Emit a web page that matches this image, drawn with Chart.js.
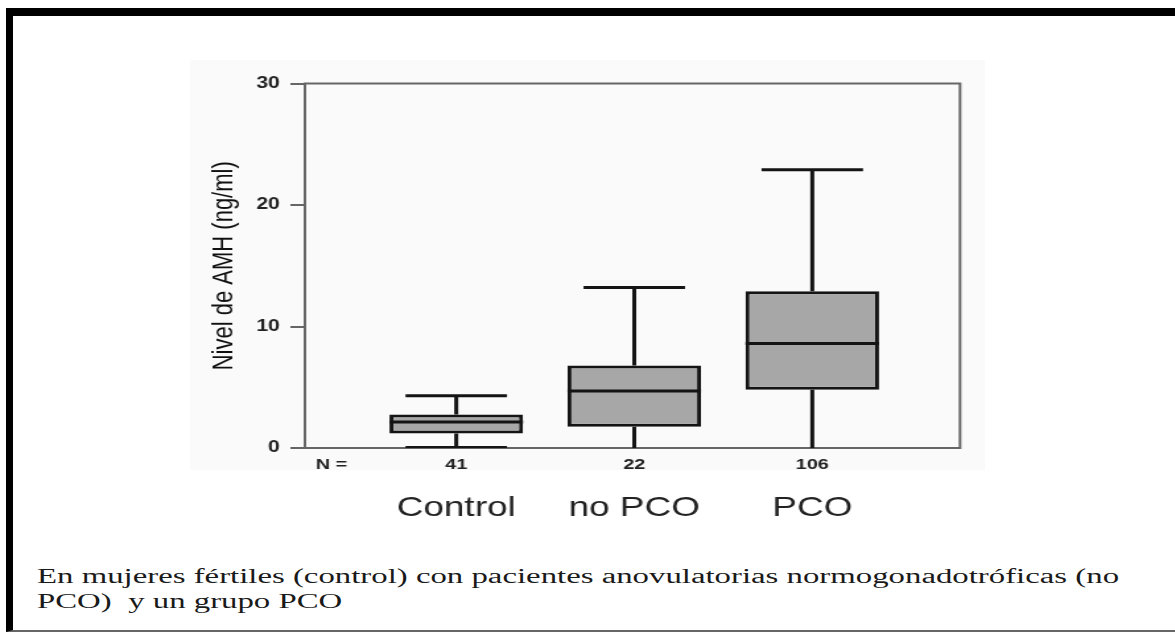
<!DOCTYPE html>
<html>
<head>
<meta charset="utf-8">
<title>AMH</title>
<script src="https://cdn.jsdelivr.net/npm/chart.js@4.4.0/dist/chart.umd.min.js"></script>
<style>
  body { margin: 0; width: 1175px; height: 633px; overflow: hidden; background: #fff; position: relative; }
  #frame { position: absolute; left: 6px; top: 8px; width: 1200px; height: 624px; box-sizing: border-box;
           border-left: 7px solid #000; border-top: 8px solid #000; border-bottom: 2px solid #666; }
  #shade { position: absolute; left: 190px; top: 60px; width: 795px; height: 410px; background: #fafafa; }
  /* the picture is stretched sideways, so the chart is drawn narrow and widened */
  #stretch { position: absolute; left: 0; top: 0; width: 890px; height: 560px; transform: scaleX(1.32); transform-origin: 0 0; }
  #caption { position: absolute; left: 37px; top: 564px; font: 20px/25px "Liberation Serif", "Times New Roman", serif;
             color: #1a1a1a; white-space: pre; transform: scaleX(1.64); transform-origin: 0 0; }
</style>
</head>
<body>
<div id="frame"></div>
<div id="shade"></div>
<div id="stretch"><canvas id="amhChart"></canvas></div>
<div id="caption">En mujeres fértiles (control) con pacientes anovulatorias normogonadotróficas (no
PCO)  y un grupo PCO</div>
<script>
const groups = ['Control', 'no PCO', 'PCO'];
const nCounts = [41, 22, 106];
const mins = [0.05, 0, 0];
const q1s = [1.2, 1.75, 4.8];
const medians = [2.15, 4.7, 8.6];
const q3s = [2.75, 6.8, 12.9];
const maxs = [4.3, 13.2, 22.9];
const yTicks = [0, 10, 20, 30];

const capHalf = 0.285;
const boxHalf = 0.375;

// whiskers, caps and medians as one broken line
const segs = [];
groups.forEach((g, i) => {
    const c = i + 1;
    segs.push({x: c, y: q3s[i]}, {x: c, y: maxs[i]}, {x: c, y: null});
    segs.push({x: c - capHalf, y: maxs[i]}, {x: c + capHalf, y: maxs[i]}, {x: c, y: null});
    segs.push({x: c, y: q1s[i]}, {x: c, y: mins[i]}, {x: c, y: null});
    if (mins[i] > 0) {
        segs.push({x: c - capHalf, y: mins[i]}, {x: c + capHalf, y: mins[i]}, {x: c, y: null});
    }
    segs.push({x: c - boxHalf, y: medians[i]}, {x: c + boxHalf, y: medians[i]}, {x: c, y: null});
});

const plotFrame = {
    id: 'plotFrame',
    beforeDatasetsDraw(chart) {
        const {ctx, chartArea: a} = chart;
        ctx.save();
        ctx.strokeStyle = '#666';
        ctx.lineWidth = 2;
        ctx.strokeRect(a.left, a.top, a.right - a.left, a.bottom - a.top);
        ctx.restore();
    }
};

Chart.defaults.font.family = '"Liberation Sans", Arial, sans-serif';
Chart.defaults.color = '#222';

new Chart(document.getElementById('amhChart'), {
    data: {
        datasets: [{
            type: 'bar',
            order: 2,
            xAxisID: 'x',
            data: groups.map((g, i) => ({x: i + 1, y: [q1s[i], q3s[i]]})),
            backgroundColor: '#a7a7a7',
            borderColor: '#141414',
            borderWidth: 3,
            borderSkipped: false,
            barPercentage: 0.75,
            categoryPercentage: 1
        }, {
            type: 'line',
            order: 1,
            xAxisID: 'x',
            data: segs,
            borderColor: '#141414',
            borderWidth: 3,
            pointRadius: 0,
            spanGaps: false,
            fill: false,
            tension: 0
        }]
    },
    options: {
        responsive: true,
        maintainAspectRatio: false,
        animation: false,
        events: [],
        layout: { padding: { left: 152.5, right: 162.7, top: 83.5, bottom: 32 } },
        plugins: { legend: { display: false }, tooltip: { enabled: false } },
        scales: {
            y: {
                min: 0,
                max: 30,
                afterBuildTicks: s => { s.ticks = yTicks.map(v => ({value: v})); },
                afterFit: s => { s.width = 78.5; },
                ticks: { padding: 8, font: { size: 16, weight: 'bold' }, color: '#222' },
                grid: { drawOnChartArea: false, drawTicks: true, tickLength: 11, color: '#666', lineWidth: 2 },
                border: { display: false },
                title: { display: true, text: 'Nivel de AMH (ng/ml)', font: { size: 22 }, padding: { top: 4, bottom: 4 }, color: '#111' }
            },
            xN: {
                type: 'linear',
                position: 'bottom',
                weight: 0,
                offset: false,
                min: 0.15,
                max: 3.83,
                afterBuildTicks: s => { s.ticks = [0.3, 1, 2, 3].map(v => ({value: v})); },
                afterFit: s => { s.height = 30; },
                ticks: {
                    autoSkip: false,
                    maxRotation: 0,
                    padding: 8,
                    font: { size: 15, weight: 'bold' },
                    color: '#222',
                    callback: (v, i) => i === 0 ? 'N =' : String(nCounts[i - 1])
                },
                grid: { display: false, drawTicks: false, offset: false },
                border: { display: false }
            },
            x: {
                type: 'linear',
                position: 'bottom',
                weight: 1,
                offset: false,
                min: 0.15,
                max: 3.83,
                afterBuildTicks: s => { s.ticks = groups.map((g, i) => ({value: i + 1})); },
                afterFit: s => { s.height = 50; },
                ticks: {
                    autoSkip: false,
                    maxRotation: 0,
                    padding: 13,
                    font: { size: 28 },
                    color: '#222',
                    callback: (v, i) => groups[i]
                },
                grid: { display: false, drawTicks: false, offset: false },
                border: { display: false }
            }
        }
    },
    plugins: [plotFrame]
});
</script>
</body>
</html>
